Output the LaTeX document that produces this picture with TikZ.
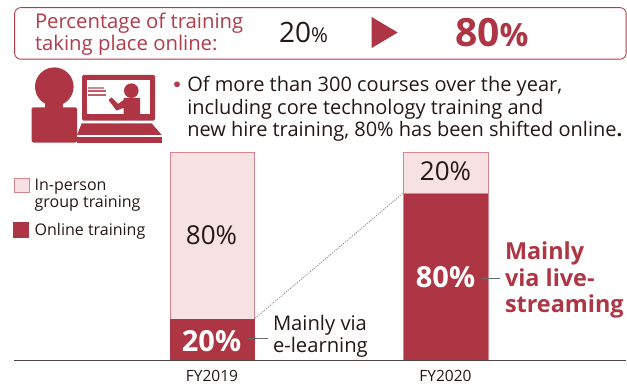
\documentclass[tikz,border=0pt]{standalone}
\usepackage{fontspec}
\setmainfont{Open Sans}
\definecolor{brand}{HTML}{AE3644}
\definecolor{brandtext}{HTML}{B23A49}
\definecolor{pale}{HTML}{F6E1E3}
\definecolor{paleedge}{HTML}{D9858F}
\definecolor{ink}{HTML}{231815}
\newcommand{\fs}[2]{\fontsize{#1}{#2}\selectfont}
\tikzset{
  lab/.style={inner sep=0pt,outer sep=0pt,anchor=base west,align=left,text=ink},
  mid/.style={inner sep=0pt,outer sep=0pt,anchor=base,text=ink},
  paleseg/.style={fill=pale,draw=paleedge,line width=0.9pt},
  darkseg/.style={fill=brand,draw=none},
  leader/.style={draw=gray!85!black,line width=1pt},
  icon/.style={fill=brand,draw=none},
}
\begin{document}
\begin{tikzpicture}[x=1pt,y=-1pt]
\useasboundingbox (0,0) rectangle (627,385);
% header box
\node[draw=brandtext,line width=0.9pt,rounded corners=6pt,minimum width=611.5pt,minimum height=51.5pt,inner sep=0pt,anchor=north west] (hdr) at (14.2,7.2) {};
\node[lab,text=brandtext,font=\fs{20.3}{22.7}] (t1) at (35,28.2) {Percentage of training};
\node[lab,text=brandtext,font=\fs{20.3}{22.7}] (t2) at (35,50.8) {taking place online:};
\node[lab,font=\fs{28}{30}] (p20) at (279,43) {20{\fs{20.5}{22}\%}};
\fill[brand] (371.7,17) -- (397.7,32.5) -- (371.7,48) -- cycle;
\node[lab,text=brand,font=\fs{39}{42}\bfseries] (p80) at (455,46.7) {80{\fs{32}{34}\%}};
% person icon
\fill[icon] (54.3,86.7) circle (19.3);
\fill[icon] (45,100) rectangle (63,110);
\fill[icon,rounded corners=1.5pt] (31.7,107.3) -- (77,107.3) -- (77,142.7) -- (31.7,142.7) -- cycle;
% laptop
\fill[icon,rounded corners=1.5pt] (82,75) rectangle (155,120.7);
\fill[white] (87.3,80) rectangle (150,114);
\fill[icon] (131.3,90.7) circle (7.3);
\fill[icon] (123.5,98) -- (140,98) -- (140,114) -- (123.5,114) -- (123.5,108) -- (116.5,110.5) -- (108.5,100) -- (111.5,97.5) -- (118,104) -- (123.5,100) -- cycle;
\fill[brand!60!white] (88,87.5) rectangle (104,89);
\fill[brand!80!white] (88,90.3) rectangle (106,91.8);
\fill[brand!80!white] (88,94.5) rectangle (106,95.8);
\fill[icon] (81.7,123.3) -- (151.7,123.3) -- (161.7,135) -- (77,135) -- cycle;
\fill[icon] (77,137) rectangle (161.7,142.7);
% bullet text
\fill[brandtext] (177,84.3) circle (2.9);
\node[lab,font=\fs{20}{22.5}] (b1) at (187.3,91.7) {Of more than 300 courses over the year,};
\node[lab,font=\fs{20}{22.5}] (b2) at (187.3,114.2) {including core technology training and};
\node[lab,font=\fs{20}{22.5}] (b3) at (187.3,136.7) {new hire training, 80\% has been shifted online\textbf{.}};
% legend
\node[paleseg,minimum width=15pt,minimum height=14pt,inner sep=0pt,anchor=north west] (lg1) at (14,177.8) {};
\node[lab,font=\fs{16}{17}] (lt1) at (34.7,190) {In-person};
\node[lab,font=\fs{16}{17}] (lt2) at (34.7,207.3) {group training};
\node[darkseg,minimum width=16pt,minimum height=16pt,inner sep=0pt,anchor=north west] (lg2) at (13.2,222) {};
\node[lab,font=\fs{16}{17}] (lt3) at (34.7,235.7) {Online training};
% bars
\node[paleseg,minimum width=84.5pt,minimum height=166.5pt,inner sep=0pt,anchor=north west] (a80) at (169.6,152) {};
\node[darkseg,minimum width=85.4pt,minimum height=41.7pt,inner sep=0pt,anchor=north west] (a20) at (169.3,318.3) {};
\node[paleseg,line width=0.7pt,minimum width=84.5pt,minimum height=41pt,inner sep=0pt,anchor=north west] (c20) at (403.3,152) {};
\node[darkseg,draw=paleedge,line width=0.7pt,minimum width=84.5pt,minimum height=166.5pt,inner sep=0pt,anchor=north west] (c80) at (403.3,193) {};
\node[mid,font=\fs{26}{28}] (la80) at (211.5,244.5) {80\%};
\node[mid,text=white,font=\fs{29}{32}\bfseries] (la20) at (211.5,351) {20\%};
\node[mid,font=\fs{26}{28}] (lc20) at (445.5,181) {20\%};
\node[mid,text=white,font=\fs{29}{32}\bfseries] (lc80) at (445.5,287.3) {80\%};
% axis
\coordinate (ax0) at (14,360.3);
\coordinate (ax1) at (626,360.3);
\draw[draw=ink!80,line width=0.9pt] (ax0) -- (ax1);
\node[mid,font=\fs{15.5}{17}] (fy1) at (212,381.7) {FY2019};
\node[mid,font=\fs{15.5}{17}] (fy2) at (445.5,381.7) {FY2020};
% dotted link
\draw[gray!90,line width=0.8pt,dash pattern=on 1.2pt off 1.2pt] (a20.north east) -- (c80.north west);
% callouts
\node[lab,font=\fs{20.2}{22}] (ca1) at (273,330.7) {Mainly via};
\node[lab,font=\fs{20.2}{22}] (ca2) at (273,352.7) {e-learning};
\coordinate (ll1) at (248,338);
\coordinate (ll1b) at (268,338);
\draw[leader] (ll1) -- (ll1b);
\node[lab,text=brand,font=\fs{23.4}{26}\bfseries] (cb1) at (505,259.3) {Mainly};
\node[lab,text=brand,font=\fs{23.4}{26}\bfseries] (cb2) at (505,286) {via live-};
\node[lab,text=brand,font=\fs{23.4}{26}\bfseries] (cb3) at (505,312.3) {streaming};
\coordinate (ll2) at (481.3,278);
\coordinate (ll3) at (500.3,278);
\draw[leader] (ll2) -- (ll3);
\end{tikzpicture}
\end{document}
